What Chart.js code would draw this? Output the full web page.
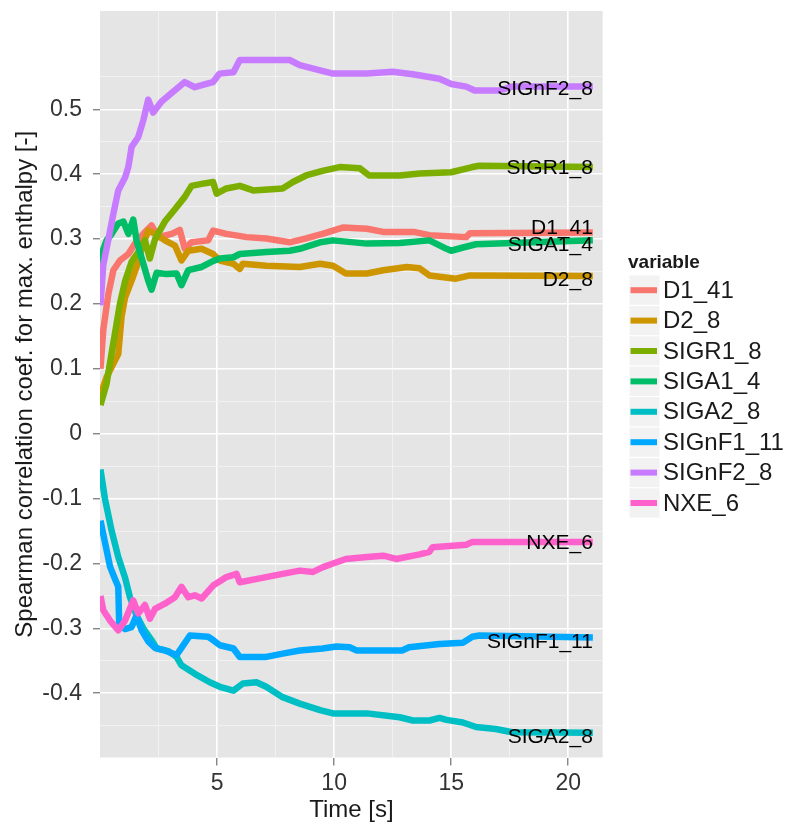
<!DOCTYPE html>
<html>
<head>
<meta charset="utf-8">
<script src="https://cdn.jsdelivr.net/npm/chart.js@4.4.1/dist/chart.umd.min.js"></script>
<style>
  html, body { margin: 0; padding: 0; background: #fff; }
  #wrap { width: 789px; height: 823px; }
</style>
</head>
<body>
<div id="wrap"><canvas id="corrChart" width="789" height="823"></canvas></div>
<script>
// series names / colours (ggplot hue palette)
const seriesNames = ['D1_41', 'D2_8', 'SIGR1_8', 'SIGA1_4', 'SIGA2_8', 'SIGnF1_11', 'SIGnF2_8', 'NXE_6'];
const seriesColors = ['#F8766D', '#CD9600', '#7CAE00', '#00BE67', '#00BFC4', '#00A9FF', '#C77CFF', '#FF61CC'];

// time [s] and correlation values
const tD1_41 = [0.02, 0.14, 0.36, 0.57, 0.85, 1.21, 1.49, 1.85, 2.2, 2.49, 3.06, 3.41, 3.62, 3.91, 4.62, 4.83, 5.4, 6.26, 7.1, 8.1, 8.8, 9.5, 9.95, 10.4, 11.4, 12.1, 13.4, 14.07, 15.64, 15.8, 21.05];
const vD1_41 = [0.10, 0.16, 0.216, 0.252, 0.267, 0.277, 0.293, 0.308, 0.321, 0.303, 0.308, 0.314, 0.285, 0.295, 0.298, 0.313, 0.308, 0.303, 0.301, 0.295, 0.301, 0.308, 0.313, 0.318, 0.316, 0.311, 0.311, 0.306, 0.303, 0.309, 0.31];

const tD2_8 = [0.02, 0.28, 0.57, 0.78, 0.92, 1.07, 1.35, 1.56, 1.85, 2.06, 2.35, 2.77, 3.2, 3.48, 3.77, 4.34, 4.83, 5.12, 5.7, 5.97, 6.1, 7.1, 8.53, 9.4, 9.95, 10.5, 11.4, 12.1, 13.1, 13.65, 14.07, 15.2, 15.8, 21.05];
const vD2_8 = [0.06, 0.087, 0.108, 0.123, 0.18, 0.21, 0.236, 0.257, 0.293, 0.313, 0.308, 0.298, 0.29, 0.267, 0.282, 0.285, 0.277, 0.267, 0.262, 0.254, 0.262, 0.259, 0.257, 0.262, 0.259, 0.247, 0.247, 0.252, 0.257, 0.255, 0.244, 0.239, 0.244, 0.243];

const tSIGR1_8 = [0.02, 0.28, 0.5, 0.71, 0.85, 1.07, 1.35, 1.63, 1.92, 2.13, 2.35, 2.77, 3.2, 3.62, 3.91, 4.34, 4.83, 4.98, 5.4, 5.97, 6.54, 7.8, 8.24, 8.8, 9.5, 10.23, 11.1, 11.5, 12.8, 13.65, 15.0, 15.9, 16.2, 21.05];
const vSIGR1_8 = [0.044, 0.077, 0.125, 0.17, 0.2, 0.235, 0.265, 0.28, 0.298, 0.27, 0.3, 0.327, 0.346, 0.365, 0.382, 0.385, 0.388, 0.37, 0.378, 0.382, 0.375, 0.378, 0.388, 0.398, 0.405, 0.411, 0.409, 0.398, 0.398, 0.401, 0.403, 0.411, 0.413, 0.411];

const tSIGA1_4 = [0.02, 0.1, 0.28, 0.5, 0.78, 1.0, 1.21, 1.42, 1.56, 1.85, 2.06, 2.2, 2.42, 2.84, 3.27, 3.48, 3.77, 4.34, 4.76, 5.12, 5.7, 5.97, 7.1, 8.1, 8.53, 9.4, 9.95, 11.4, 12.8, 14.07, 14.8, 15.0, 15.5, 16.06, 21.05];
const vSIGA1_4 = [0.262, 0.28, 0.298, 0.308, 0.324, 0.327, 0.308, 0.33, 0.298, 0.262, 0.236, 0.222, 0.248, 0.246, 0.247, 0.229, 0.252, 0.257, 0.265, 0.27, 0.272, 0.277, 0.28, 0.282, 0.285, 0.295, 0.298, 0.293, 0.294, 0.298, 0.285, 0.282, 0.287, 0.292, 0.298];

const tSIGA2_8 = [0.02, 0.21, 0.5, 0.78, 1.07, 1.28, 1.56, 1.85, 2.2, 2.42, 2.92, 3.27, 3.48, 4.05, 4.69, 5.12, 5.7, 6.1, 6.68, 7.1, 7.8, 8.53, 9.4, 9.95, 11.4, 12.8, 13.36, 14.07, 14.5, 14.8, 15.5, 16.06, 16.9, 17.6, 21.05];
const vSIGA2_8 = [-0.055, -0.1, -0.15, -0.19, -0.222, -0.252, -0.28, -0.3, -0.318, -0.331, -0.335, -0.344, -0.357, -0.37, -0.383, -0.39, -0.396, -0.385, -0.383, -0.39, -0.406, -0.416, -0.426, -0.431, -0.431, -0.437, -0.442, -0.442, -0.438, -0.441, -0.445, -0.452, -0.455, -0.46, -0.461];

const tSIGnF1_11 = [0.02, 0.21, 0.43, 0.64, 0.78, 0.82, 1.07, 1.35, 1.56, 1.78, 2.06, 2.35, 2.77, 3.27, 3.48, 3.84, 4.62, 4.83, 5.12, 5.7, 5.97, 7.1, 7.8, 8.53, 9.5, 10.1, 10.66, 10.95, 12.9, 13.2, 14.5, 15.5, 15.9, 16.2, 21.05];
const vSIGnF1_11 = [-0.134, -0.167, -0.205, -0.224, -0.236, -0.293, -0.301, -0.298, -0.28, -0.303, -0.32, -0.33, -0.334, -0.341, -0.33, -0.311, -0.313, -0.318, -0.326, -0.331, -0.344, -0.344, -0.339, -0.334, -0.331, -0.328, -0.329, -0.334, -0.334, -0.329, -0.324, -0.322, -0.313, -0.311, -0.314];

const tSIGnF2_8 = [0.02, 0.14, 0.36, 0.57, 0.78, 1.07, 1.21, 1.35, 1.63, 1.85, 2.06, 2.27, 2.63, 3.06, 3.62, 4.05, 4.62, 4.83, 5.1, 5.7, 5.97, 7.1, 8.1, 8.53, 9.4, 9.95, 11.4, 12.5, 13.36, 14.5, 15.0, 15.64, 16.0, 17.06, 17.6, 21.05];
const vSIGnF2_8 = [0.198, 0.26, 0.3, 0.339, 0.375, 0.395, 0.411, 0.442, 0.457, 0.483, 0.515, 0.495, 0.512, 0.525, 0.542, 0.534, 0.54, 0.542, 0.555, 0.557, 0.576, 0.576, 0.576, 0.568, 0.56, 0.555, 0.555, 0.558, 0.554, 0.547, 0.539, 0.535, 0.529, 0.529, 0.535, 0.535];

const tNXE_6 = [0.02, 0.14, 0.43, 0.78, 1.07, 1.42, 1.63, 1.92, 2.13, 2.35, 2.77, 3.2, 3.48, 3.77, 4.05, 4.34, 4.83, 5.4, 5.83, 5.97, 6.82, 7.8, 8.53, 9.1, 9.5, 9.95, 10.5, 11.4, 12.1, 12.65, 13.65, 14.07, 14.2, 15.64, 15.9, 21.05];
const vNXE_6 = [-0.25, -0.272, -0.288, -0.303, -0.288, -0.257, -0.277, -0.264, -0.285, -0.27, -0.262, -0.252, -0.236, -0.252, -0.249, -0.254, -0.234, -0.221, -0.216, -0.229, -0.223, -0.216, -0.211, -0.213, -0.206, -0.2, -0.193, -0.19, -0.188, -0.193, -0.186, -0.182, -0.175, -0.171, -0.167, -0.167];

// y value where each end label sits (labels were nudged apart)
const labelValues = [0.317, 0.236, 0.409, 0.29, -0.467, -0.321, 0.531, -0.169];

// axis ticks
const xMajor = [5, 10, 15, 20];
const xMinor = [2.5, 7.5, 12.5, 17.5];
const yMajor = [-0.4, -0.3, -0.2, -0.1, 0, 0.1, 0.2, 0.3, 0.4, 0.5];
const yMinor = [-0.45, -0.35, -0.25, -0.15, -0.05, 0.05, 0.15, 0.25, 0.35, 0.45, 0.55];

const seriesTimes = [tD1_41, tD2_8, tSIGR1_8, tSIGA1_4, tSIGA2_8, tSIGnF1_11, tSIGnF2_8, tNXE_6];
const seriesValues = [vD1_41, vD2_8, vSIGR1_8, vSIGA1_4, vSIGA2_8, vSIGnF1_11, vSIGnF2_8, vNXE_6];

const FONT = '"Liberation Sans", Arial, sans-serif';

function isIn(list, v) {
    return list.some(m => Math.abs(m - v) < 1e-9);
}

const datasets = seriesNames.map((name, i) => ({
    label: name,
    data: seriesTimes[i].map((t, k) => ({ x: t, y: seriesValues[i][k] })),
    borderColor: seriesColors[i],
    backgroundColor: seriesColors[i],
    borderWidth: 6.5,
    pointRadius: 0,
    tension: 0,
    fill: false,
    borderJoinStyle: 'round',
    order: seriesNames.length - 1 - i
}));

const panelBg = {
    id: 'panelBg',
    beforeDraw(chart) {
        const { ctx, chartArea: a } = chart;
        ctx.save();
        ctx.fillStyle = '#ffffff';
        ctx.fillRect(0, 0, chart.width, chart.height);
        ctx.fillStyle = '#E5E5E5';
        ctx.fillRect(a.left, a.top, a.right - a.left, a.bottom - a.top);
        ctx.restore();
    }
};

const endLabels = {
    id: 'endLabels',
    afterDatasetsDraw(chart) {
        const { ctx } = chart;
        const xs = chart.scales.x, ys = chart.scales.y;
        ctx.save();
        ctx.font = '21px ' + FONT;
        ctx.fillStyle = '#000';
        ctx.textAlign = 'right';
        ctx.textBaseline = 'middle';
        seriesNames.forEach((name, i) => {
            const t = seriesTimes[i];
            ctx.fillText(name, xs.getPixelForValue(t[t.length - 1]), ys.getPixelForValue(labelValues[i]));
        });
        ctx.restore();
    }
};

const ggLegend = {
    id: 'ggLegend',
    afterDraw(chart) {
        const { ctx } = chart;
        const left = 629, top = 275, keyW = 31, keyH = 30.4;
        ctx.save();
        ctx.fillStyle = '#1a1a1a';
        ctx.font = 'bold 19px ' + FONT;
        ctx.textAlign = 'left';
        ctx.textBaseline = 'middle';
        ctx.fillText('variable', 628, 263);
        ctx.font = '24px ' + FONT;
        seriesNames.forEach((name, i) => {
            const y = top + i * keyH;
            ctx.fillStyle = '#F2F2F2';
            ctx.fillRect(left, y, keyW, keyH);
            ctx.strokeStyle = '#ffffff';
            ctx.lineWidth = 1;
            ctx.strokeRect(left, y, keyW, keyH);
            ctx.strokeStyle = seriesColors[i];
            ctx.lineWidth = 6;
            ctx.beginPath();
            ctx.moveTo(left + 1.5, y + keyH / 2);
            ctx.lineTo(left + keyW - 3, y + keyH / 2);
            ctx.stroke();
            ctx.fillStyle = '#1a1a1a';
            ctx.fillText(name, 663, y + keyH / 2 + 1);
        });
        ctx.restore();
    }
};

new Chart(document.getElementById('corrChart'), {
    type: 'line',
    data: { datasets: datasets },
    options: {
        responsive: false,
        animation: false,
        devicePixelRatio: 1,
        layout: { padding: { left: 0, top: 11, right: 186.3, bottom: 0 } },
        plugins: {
            legend: { display: false },
            tooltip: { enabled: false }
        },
        scales: {
            x: {
                type: 'linear',
                min: 0,
                max: 21.47,
                afterBuildTicks: s => { s.ticks = xMinor.concat(xMajor).sort((a, b) => a - b).map(v => ({ value: v })); },
                afterFit: s => { s.height = 65.5; s.paddingLeft = 0; s.paddingRight = 0; },
                border: { display: false },
                grid: {
                    color: c => (c.tick && isIn(xMajor, c.tick.value)) ? '#ffffff' : '#F2F2F2',
                    lineWidth: c => (c.tick && isIn(xMajor, c.tick.value)) ? 1.6 : 0.9,
                    tickColor: c => (c.tick && isIn(xMajor, c.tick.value)) ? '#555555' : 'rgba(0,0,0,0)',
                    tickLength: 8,
                    tickWidth: 1
                },
                ticks: {
                    autoSkip: false,
                    maxRotation: 0,
                    padding: 4,
                    color: '#333',
                    font: { family: FONT, size: 23 },
                    callback: v => isIn(xMajor, v) ? String(v) : ''
                },
                title: {
                    display: true,
                    text: 'Time [s]',
                    color: '#1a1a1a',
                    font: { family: FONT, size: 24, lineHeight: 1 },
                    padding: { top: 0, bottom: 1 }
                }
            },
            y: {
                type: 'linear',
                min: -0.499,
                max: 0.6515,
                afterBuildTicks: s => { s.ticks = yMinor.concat(yMajor).sort((a, b) => a - b).map(v => ({ value: v })); },
                afterFit: s => { s.width = 100; s.paddingTop = 0; s.paddingBottom = 0; },
                border: { display: false },
                grid: {
                    color: c => (c.tick && isIn(yMajor, c.tick.value)) ? '#ffffff' : '#F2F2F2',
                    lineWidth: c => (c.tick && isIn(yMajor, c.tick.value)) ? 1.6 : 0.9,
                    tickColor: c => (c.tick && isIn(yMajor, c.tick.value)) ? '#555555' : 'rgba(0,0,0,0)',
                    tickLength: 7,
                    tickWidth: 1
                },
                ticks: {
                    autoSkip: false,
                    padding: 11,
                    color: '#333',
                    font: { family: FONT, size: 23 },
                    callback: v => isIn(yMajor, v) ? String(Math.round(v * 10) / 10) : ''
                },
                title: {
                    display: true,
                    text: 'Spearman correlation coef. for max. enthalpy [-]',
                    color: '#1a1a1a',
                    font: { family: FONT, size: 24, lineHeight: 1.2 },
                    padding: { top: 11, bottom: 0 }
                }
            }
        }
    },
    plugins: [panelBg, endLabels, ggLegend]
});
</script>
</body>
</html>
